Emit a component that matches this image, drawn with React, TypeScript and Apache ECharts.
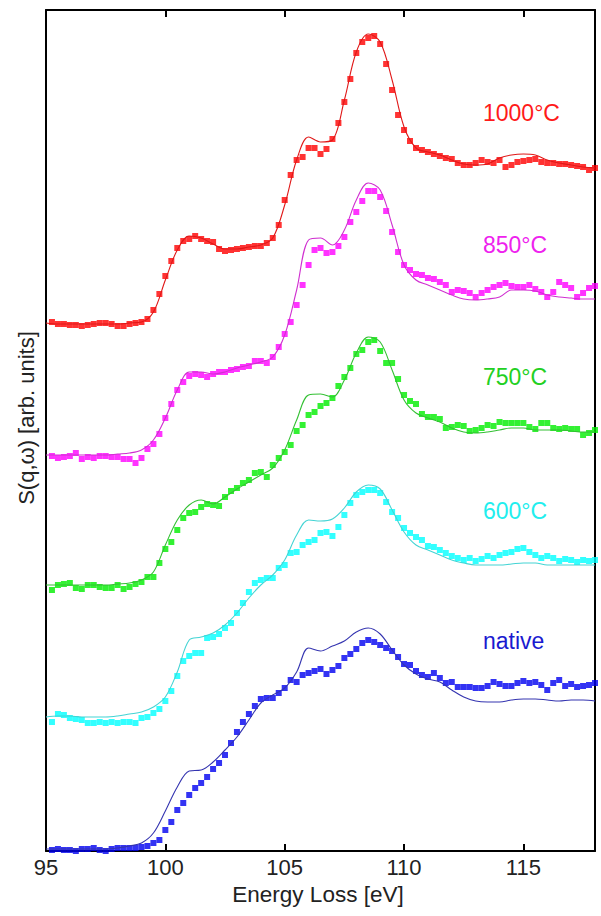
import React, { useEffect, useRef } from "react";
import * as echarts from "echarts";

// Energy grids (eV)
const markerEnergy = Array.from({ length: 92 }, (_, i) => 95.25 + i * 0.25);
const fitEnergy = Array.from({ length: 47 }, (_, i) => 95 + i * 0.5);

const xTicks = [95, 100, 105, 110, 115];

// Measured spectra (arb. units, stacked with offsets)
const red1000 = [
  529, 527, 527, 526, 526, 525, 526, 527, 528, 528, 527, 525, 525, 527, 528, 529,
  532, 541, 557, 575, 590, 603, 610, 612, 615, 612, 610, 609, 602, 600, 601, 602,
  603, 604, 605, 605, 608, 613, 626, 651, 676, 691, 694, 703, 703, 697, 702, 712,
  728, 749, 772, 798, 809, 813, 815, 807, 787, 761, 736, 721, 710, 703, 701, 699,
  697, 695, 693, 692, 688, 686, 686, 688, 691, 689, 688, 691, 684, 686, 689, 690,
  691, 692, 689, 688, 688, 687, 687, 686, 685, 684, 681, 683,
];
const mag850 = [
  395, 393, 394, 395, 398, 392, 394, 393, 395, 395, 394, 394, 392, 392, 388, 393,
  402, 407, 417, 433, 447, 461, 469, 475, 477, 476, 474, 477, 479, 479, 481, 482,
  484, 485, 490, 490, 488, 494, 504, 517, 529, 546, 566, 586, 601, 603, 598, 599,
  605, 614, 629, 639, 650, 660, 660, 654, 640, 619, 599, 586, 581, 577, 576, 573,
  572, 569, 566, 559, 561, 560, 558, 554, 558, 561, 564, 566, 568, 565, 564, 564,
  566, 562, 559, 554, 559, 569, 566, 563, 554, 558, 563, 565,
];
const grn750 = [
  261, 266, 267, 268, 263, 262, 266, 266, 264, 263, 263, 266, 262, 264, 267, 269,
  274, 274, 288, 302, 309, 321, 333, 338, 339, 344, 347, 346, 345, 354, 360, 363,
  368, 371, 378, 379, 374, 386, 393, 399, 406, 420, 426, 436, 439, 445, 448, 453,
  465, 474, 483, 497, 501, 509, 511, 500, 488, 488, 472, 456, 450, 447, 437, 434,
  434, 432, 423, 424, 426, 425, 420, 421, 423, 426, 425, 429, 428, 428, 428, 428,
  424, 422, 428, 428, 423, 422, 423, 422, 422, 416, 418, 421,
];
const cyn600 = [
  129, 137, 136, 133, 132, 131, 128, 128, 129, 128, 129, 128, 129, 129, 128, 133,
  134, 138, 142, 150, 160, 175, 190, 195, 198, 198, 213, 214, 217, 223, 228, 238,
  248, 259, 268, 271, 273, 273, 283, 286, 298, 299, 306, 309, 311, 318, 319, 315,
  324, 336, 348, 356, 359, 361, 361, 358, 349, 339, 333, 323, 318, 314, 311, 305,
  304, 301, 298, 295, 293, 291, 293, 290, 292, 295, 293, 296, 298, 299, 302, 303,
  299, 296, 293, 295, 293, 290, 292, 291, 289, 291, 290, 291,
];
const bluNative = [
  1, 2, 1, 1, 0, 2, 2, 3, 1, 0, 2, 3, 3, 3, 3, 4,
  5, 8, 11, 21, 29, 41, 48, 56, 63, 68, 74, 82, 88, 96, 108, 119,
  129, 137, 145, 152, 153, 153, 158, 163, 171, 169, 176, 178, 180, 182, 177, 181,
  185, 193, 197, 202, 208, 211, 209, 206, 203, 200, 194, 187, 186, 180, 176, 174,
  178, 173, 168, 169, 164, 164, 164, 163, 163, 165, 169, 167, 165, 165, 168, 170,
  168, 169, 166, 161, 168, 171, 165, 167, 164, 165, 166, 168,
];

// Calculated curves
const fit1000 = [
  528, 527, 527, 527, 527, 527, 527, 528, 529, 539, 571, 601, 615, 613, 607, 602,
  602, 604, 606, 613, 646, 691, 714, 709, 711, 751, 799, 817, 809, 771, 724, 703,
  699, 696, 691, 687, 686, 687, 693, 696, 697, 696, 691, 688, 686, 684, 683,
];
const fit850 = [
  396, 396, 396, 396, 396, 396, 397, 398, 401, 411, 433, 461, 479, 479, 477, 479,
  483, 486, 489, 494, 516, 561, 611, 613, 606, 621, 651, 668, 661, 626, 586, 571,
  566, 561, 556, 552, 551, 552, 554, 561, 561, 560, 556, 554, 553, 552, 552,
];
const fit750 = [
  266, 266, 266, 266, 266, 266, 267, 268, 271, 279, 306, 331, 346, 351, 347, 354,
  362, 369, 376, 383, 401, 431, 456, 457, 454, 471, 498, 514, 509, 481, 451, 438,
  433, 429, 423, 419, 418, 419, 421, 423, 423, 421, 421, 421, 420, 419, 419,
];
const fit600 = [
  134, 135, 135, 134, 134, 134, 135, 137, 139, 144, 154, 179, 211, 214, 218, 226,
  238, 253, 266, 276, 291, 316, 331, 330, 332, 343, 359, 366, 362, 341, 319, 306,
  301, 296, 291, 288, 286, 286, 286, 287, 288, 288, 286, 286, 286, 286, 286,
];
const fitNative = [
  2, 2, 2, 2, 2, 2, 3, 5, 8, 18, 40, 64, 80, 81, 89, 101,
  114, 131, 148, 156, 163, 179, 203, 200, 205, 210, 219, 223, 217, 201, 186, 177,
  172, 169, 161, 154, 150, 149, 149, 151, 152, 152, 151, 150, 151, 151, 150,
];

const labels = ["1000°C", "850°C", "750°C", "600°C", "native"];
const markerSets = [red1000, mag850, grn750, cyn600, bluNative];
const fitSets = [fit1000, fit850, fit750, fit600, fitNative];
const markerColors = ["#ff0000", "#ff00ff", "#00ee00", "#00ffff", "#0000f0"];
const lineColors = ["#e01818", "#d030d0", "#33c033", "#44d4d4", "#3434b0"];
const labelColors = ["#ff1a1a", "#ee22ee", "#22d022", "#22eeee", "#1a1ad0"];
const labelY = [113, 245, 377, 511, 641];

const FONT = "'Liberation Sans', Arial, Helvetica, sans-serif";

export default function App() {
  const ref = useRef<HTMLDivElement>(null);
  useEffect(() => {
    if (!ref.current) return;
    const chart = echarts.init(ref.current, null, { renderer: "svg" });
    const series: any[] = [];
    markerSets.forEach((vals, k) => {
      series.push({
        type: "scatter",
        name: labels[k] + " exp",
        data: vals.map((v, i) => [markerEnergy[i], v]),
        symbol: "rect",
        symbolSize: 6,
        clip: false,
        itemStyle: { color: markerColors[k] },
        z: 2,
      });
    });
    fitSets.forEach((vals, k) => {
      series.push({
        type: "line",
        name: labels[k] + " calc",
        data: vals.map((v, i) => [fitEnergy[i], v]),
        showSymbol: false,
        smooth: 0.35,
        lineStyle: { color: lineColors[k], width: 1.1 },
        z: 3,
      });
    });
    const graphic: any[] = labels.map((t, k) => ({
      type: "text",
      x: 483,
      y: labelY[k],
      style: {
        text: t,
        fill: labelColors[k],
        font: `23px ${FONT}`,
        textAlign: "left",
        textVerticalAlign: "middle",
      },
    }));
    graphic.push({
      type: "text",
      x: 318,
      y: 894,
      style: {
        text: "Energy Loss [eV]",
        fill: "#222",
        font: `22.5px ${FONT}`,
        textAlign: "center",
        textVerticalAlign: "middle",
      },
    });
    graphic.push({
      type: "text",
      x: 26,
      y: 418,
      rotation: Math.PI / 2,
      style: {
        text: "S(q,ω) [arb. units]",
        fill: "#222",
        font: `22px ${FONT}`,
        textAlign: "center",
        textVerticalAlign: "middle",
      },
    });
    chart.setOption({
      animation: false,
      backgroundColor: "#ffffff",
      grid: { left: 46, right: 6, top: 10, bottom: 65, containLabel: false },
      xAxis: [
        {
          type: "value",
          position: "bottom",
          min: 95,
          max: 118,
          interval: 5,
          axisLine: { show: true, onZero: false, lineStyle: { color: "#000", width: 2 } },
          axisTick: { show: true, inside: true, length: 7, lineStyle: { color: "#000", width: 2 } },
          axisLabel: {
            show: true,
            color: "#222",
            fontSize: 22,
            fontFamily: FONT,
            margin: 5,
            formatter: (v: number) => (xTicks.includes(v) ? String(v) : ""),
          },
          splitLine: { show: false },
        },
        {
          type: "value",
          position: "top",
          min: 95,
          max: 118,
          interval: 5,
          axisLine: { show: true, onZero: false, lineStyle: { color: "#000", width: 2 } },
          axisTick: { show: true, inside: true, length: 7, lineStyle: { color: "#000", width: 2 } },
          axisLabel: { show: false },
          splitLine: { show: false },
        },
      ],
      yAxis: [
        {
          type: "value",
          position: "left",
          min: 0,
          max: 841,
          axisLine: { show: true, onZero: false, lineStyle: { color: "#000", width: 2 } },
          axisTick: { show: false },
          axisLabel: { show: false },
          splitLine: { show: false },
        },
        {
          type: "value",
          position: "right",
          min: 0,
          max: 841,
          axisLine: { show: true, onZero: false, lineStyle: { color: "#000", width: 2 } },
          axisTick: { show: false },
          axisLabel: { show: false },
          splitLine: { show: false },
        },
      ],
      graphic,
      series,
    });
    return () => chart.dispose();
  }, []);
  return (
    <div
      ref={ref}
      style={{ position: "absolute", left: 0, top: 0, width: 601, height: 916 }}
    />
  );
}
